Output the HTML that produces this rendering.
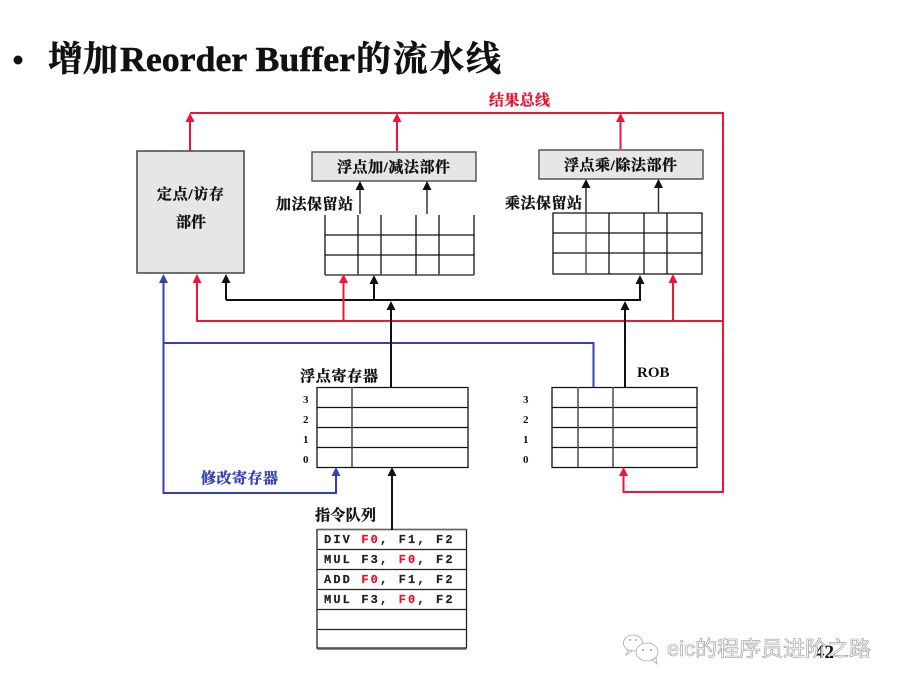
<!DOCTYPE html>
<html><head><meta charset="utf-8"><style>
html,body{margin:0;padding:0;background:#fff}
svg{display:block}
text{font-family:"Liberation Serif","Noto Serif CJK SC",serif;font-weight:700}
.l{font-size:15px;fill:#111;stroke:#111;stroke-width:.35}
.n{font-size:11px;fill:#111}
.m{font-family:"Liberation Mono",monospace;font-size:12px;fill:#222;stroke:#222;stroke-width:.2;letter-spacing:2.13px;white-space:pre}
.r{fill:#e8102c;stroke:#e8102c}
tspan.r{stroke-width:.2}
.t{font-size:35px;fill:#111;stroke:#111;stroke-width:.5}
</style></head><body>
<svg width="899" height="687" viewBox="0 0 899 687" xmlns="http://www.w3.org/2000/svg">
<rect width="899" height="687" fill="#fff"/>
<circle cx="18" cy="60" r="4.500" fill="#111"/>
<text x="48" y="71" class="t">增加</text>
<text x="120" y="71" class="t" textLength="235" lengthAdjust="spacingAndGlyphs">Reorder Buffer</text>
<text x="356" y="71" class="t" textLength="145">的流水线</text>

<!-- boxes -->
<rect x="137" y="151" width="107" height="122" fill="#e6e6e6" stroke="#444" stroke-width="1.5"/>
<rect x="312" y="152" width="164" height="29" fill="#e6e6e6" stroke="#555" stroke-width="1.5"/>
<rect x="539" y="150" width="164" height="29" fill="#e6e6e6" stroke="#555" stroke-width="1.5"/>

<g stroke="#111" stroke-width="1.3" fill="none">
<path d="M325 215V275M358 215V275M381 215V275M416 215V275M439 215V275M474 215V275"/>
<path d="M325 235H474M325 255H474"/><path d="M325 275H474" stroke="#444" stroke-width="1.6"/>
<path d="M553 213H702V274H553ZM553 233H702M553 253H702M609 213V274M644 213V274M667 213V274"/>
<path d="M586 213V274" stroke="#555" stroke-width="1.5"/>
<path d="M317 387.500H468V467.500H317ZM317 407.500H468M317 427.500H468M317 447.500H468"/>
<path d="M352 387V467" stroke="#555" stroke-width="1.6"/>
<path d="M552 387.500H697V467.500H552ZM552 407.500H697M552 427.500H697M552 447.500H697"/>
<path d="M578 387V467M613 387V467" stroke="#555" stroke-width="1.6"/>
<path d="M317 529.500H466.500V648H317ZM317 549.500H466.500M317 569.500H466.500M317 589.500H466.500M317 609.500H466.500M317 629.500H466.500" stroke="#222"/>
<path d="M317 529.500H466.500M317 649H466.500" stroke="#666" stroke-width="1.5"/>
</g>

<g stroke="#111" stroke-width="2" fill="none">
<path d="M226 300V280M226 300H640V281M374 300V281M391 387V307M625 387V307M392 530V473"/>
</g>
<g stroke="#333" stroke-width="1.5" fill="none">
<path d="M360 214V187M427 214V187M586 213V185M658.500 212V185"/>
</g>
<g fill="#111">
<path d="M226 274l-4.500 9h9zM374 275l-4.500 9h9zM640 275l-4.500 9h9zM391 301l-4.500 9h9zM625 301l-4.500 9h9zM392 467l-4.500 9h9z"/>
<path d="M360 181l-4.500 9h9zM427 181l-4.500 9h9zM586 179l-4.500 9h9zM658.500 179l-4.500 9h9z"/>
</g>

<g stroke="#3240b4" stroke-width="2" fill="none">
<path d="M163.500 282V493H336V474M163.500 343H593.500V387"/>
</g>
<path d="M163.500 274l-4.500 9h9zM336 467l-4.500 9h9z" fill="#3240b4"/>

<g stroke="#ee1538" stroke-width="2" fill="none">
<path d="M190 151V120M190 113H723V492H623.500V474M397 151V120M620.500 149V120M197 281V321H723M343.500 321V281M673 321V281"/>
</g>
<path d="M190 113l-4.500 9h9zM397 113l-4.500 9h9zM620.500 113l-4.500 9h9zM197 274l-4.500 9h9zM343.500 274l-4.500 9h9zM673 274l-4.500 9h9zM623.500 467l-4.500 9h9z" fill="#ee1538"/>
<path d="M391 318V346M625 318V346" stroke="#111" stroke-width="2"/>

<text x="489" y="105" class="l r" textLength="61">结果总线</text>
<text x="157" y="199" class="l" textLength="67">定点/访存</text>
<text x="176" y="227" class="l" textLength="30">部件</text>
<text x="337" y="172" class="l" textLength="113">浮点加/减法部件</text>
<text x="564" y="170" class="l" textLength="113">浮点乘/除法部件</text>
<text x="276" y="209" class="l" textLength="77">加法保留站</text>
<text x="505" y="208" class="l" textLength="77">乘法保留站</text>
<text x="300" y="381" class="l" textLength="78">浮点寄存器</text>
<text x="637" y="377" font-size="15" fill="#111">ROB</text>
<text x="201" y="483" class="l" style="fill:#3240b4;stroke:#3240b4" textLength="77">修改寄存器</text>
<text x="315" y="520" class="l" textLength="61">指令队列</text>

<text class="n" x="303" y="403">3</text><text class="n" x="303" y="423">2</text><text class="n" x="303" y="443">1</text><text class="n" x="303" y="463">0</text>
<text class="n" x="523" y="403">3</text><text class="n" x="523" y="423">2</text><text class="n" x="523" y="443">1</text><text class="n" x="523" y="463">0</text>

<text class="m" x="324" y="543">DIV <tspan class="r">F0</tspan>, F1, F2</text>
<text class="m" x="324" y="563">MUL F3, <tspan class="r">F0</tspan>, F2</text>
<text class="m" x="324" y="583">ADD <tspan class="r">F0</tspan>, F1, F2</text>
<text class="m" x="324" y="603">MUL F3, <tspan class="r">F0</tspan>, F2</text>

<text x="815" y="658" font-size="19" fill="#111">42</text>
<g fill="#fff" stroke="#aaa" stroke-width="0.8">
<ellipse cx="633" cy="643" rx="9.500" ry="8"/>
<path d="M628 650l-2 5 6-4z"/>
<ellipse cx="647" cy="652" rx="11" ry="9"/>
<path d="M652 660l5 4-1-6z"/>
</g>
<g fill="#aaa"><circle cx="630" cy="640" r="1"/><circle cx="636" cy="640" r="1"/><circle cx="643" cy="650" r="1"/><circle cx="651" cy="650" r="1"/></g>
<text x="667" y="656" font-size="21" textLength="204" lengthAdjust="spacingAndGlyphs" style="font-family:'Liberation Sans','Noto Sans CJK SC',sans-serif;font-weight:400" fill="#fff" stroke="#999" stroke-width="0.6">eic的程序员进阶之路</text>
</svg>
</body></html>
